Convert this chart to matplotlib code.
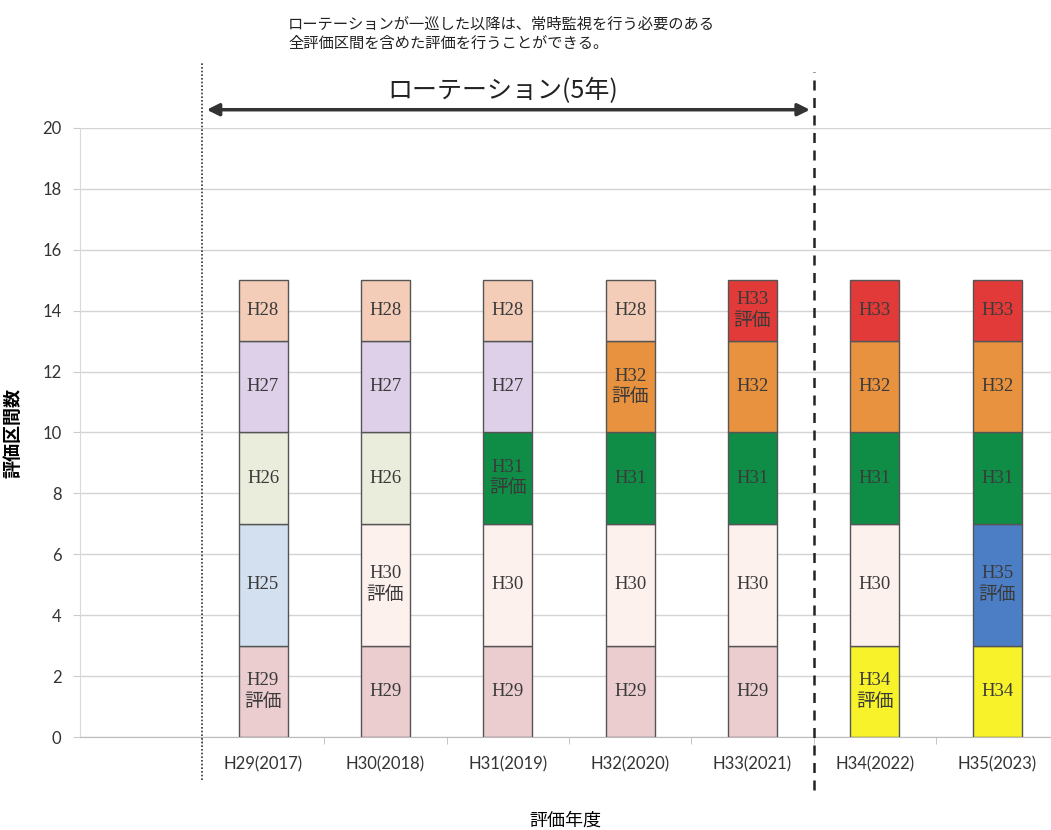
import matplotlib.pyplot as plt

plt.rcParams['font.family'] = ['Noto Sans CJK JP', 'DejaVu Sans']

# 評価年度 (先頭は空欄の区分)
years = ['', 'H29(2017)', 'H30(2018)', 'H31(2019)', 'H32(2020)',
         'H33(2021)', 'H34(2022)', 'H35(2023)']

# 積み上げの各層の区間数
layer0 = [0, 3, 3, 3, 3, 3, 3, 3]
layer1 = [0, 4, 4, 4, 4, 4, 4, 4]
layer2 = [0, 3, 3, 3, 3, 3, 3, 3]
layer3 = [0, 3, 3, 3, 3, 3, 3, 3]
layer4 = [0, 2, 2, 2, 2, 2, 2, 2]

# 各層のラベル
label0 = ['', 'H29評価', 'H29', 'H29', 'H29', 'H29', 'H34評価', 'H34']
label1 = ['', 'H25', 'H30評価', 'H30', 'H30', 'H30', 'H30', 'H35評価']
label2 = ['', 'H26', 'H26', 'H31評価', 'H31', 'H31', 'H31', 'H31']
label3 = ['', 'H27', 'H27', 'H27', 'H32評価', 'H32', 'H32', 'H32']
label4 = ['', 'H28', 'H28', 'H28', 'H28', 'H33評価', 'H33', 'H33']

colors = {
    'H25': '#D3E0F0', 'H26': '#EAECDC', 'H27': '#DDD0E8', 'H28': '#F3CDB8',
    'H29': '#EBCDD0', 'H30': '#FDF1EE', 'H31': '#0F8C46', 'H32': '#E8913F',
    'H33': '#E13A38', 'H34': '#F7F22A', 'H35': '#4C7EC6',
}

layers = [layer0, layer1, layer2, layer3, layer4]
labels = [label0, label1, label2, label3, label4]

fig = plt.figure(figsize=(10.51, 8.3), dpi=100)
ax = fig.add_axes([79.5 / 1051, 93 / 830, 971.5 / 1051, 609 / 830])

x = list(range(len(years)))
bottom = [0] * len(years)
for vals, labs in zip(layers, labels):
    idx = [i for i in x if vals[i] > 0]
    ax.bar([x[i] for i in idx], [vals[i] for i in idx], width=0.4,
           bottom=[bottom[i] for i in idx],
           color=[colors[labs[i][:3]] for i in idx],
           edgecolor='#555555', linewidth=1, zorder=3)
    for i in idx:
        txt = labs[i].replace('評価', '\n評価')
        ax.text(i, bottom[i] + vals[i] / 2, txt, ha='center', va='center',
                fontsize=13.5, color='#3a3a3a', linespacing=1.35,
                family=['Liberation Serif', 'Noto Sans CJK JP'], zorder=4)
    bottom = [b + v for b, v in zip(bottom, vals)]

ax.set_xlim(-0.5, 7.44)
ax.set_ylim(0, 20)
ax.set_yticks(range(0, 21, 2))
ax.set_xticks(x)
ax.set_xticklabels(years, fontsize=12, color='#333333', family='Lato')
ax.set_xticks([i + 0.5 for i in range(7)], minor=True)
ax.tick_params(axis='x', which='major', length=0, pad=14)
ax.tick_params(axis='x', which='minor', length=5, color='#BBBBBB')
ax.tick_params(axis='y', length=5, color='#CCCCCC', labelsize=12,
               labelcolor='#333333', pad=8)
for t in ax.get_yticklabels():
    t.set_family('Lato')

ax.grid(axis='y', color='#D4D4D4', linewidth=1, zorder=0)
for s in ['top', 'right']:
    ax.spines[s].set_visible(False)
ax.spines['left'].set_color('#D9D9D9')
ax.spines['bottom'].set_color('#BBBBBB')

ax.set_ylabel('評価区間数', fontsize=13, fontweight='bold', labelpad=14)
ax.set_xlabel('評価年度', fontsize=13, labelpad=28)

# ローテーション区切り線
ax.axvline(0.5, ymin=-0.07, ymax=1.108, color='#333333', linestyle=(0, (1, 1.2)),
           linewidth=1.2, clip_on=False, zorder=5)
ax.axvline(5.5, ymin=-0.087, ymax=1.092, color='#222222', linestyle=(0, (4, 3)),
           linewidth=1.8, clip_on=False, zorder=5)

ax.annotate('', xy=(0.54, 20.6), xytext=(5.47, 20.6),
            arrowprops=dict(arrowstyle='<|-|>', color='#333333', lw=2.5,
                            mutation_scale=18, shrinkA=0, shrinkB=0),
            annotation_clip=False)
ax.text(2.96, 21.2, 'ローテーション(5年)', ha='center', va='center',
        fontsize=18, color='#222222')

fig.text(288 / 1051, 1 - 34 / 830,
         'ローテーションが一巡した以降は、常時監視を行う必要のある\n全評価区間を含めた評価を行うことができる。',
         ha='left', va='center', fontsize=11, color='#222222', linespacing=1.2)

fig.savefig('out.png', dpi=100)
